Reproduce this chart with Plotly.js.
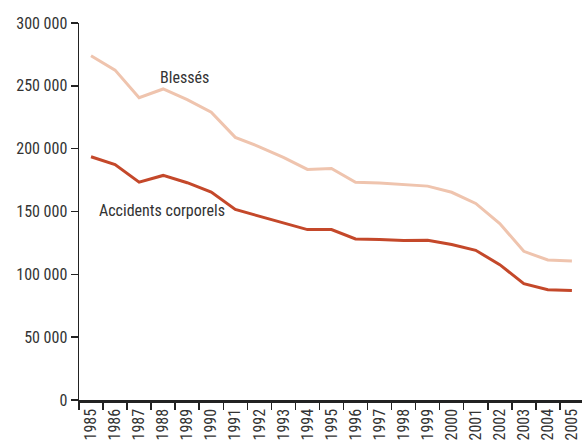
<!DOCTYPE html>
<html>
<head>
<meta charset="utf-8">
<script src="https://cdn.plot.ly/plotly-3.0.1.min.js"></script>
<style>html,body{margin:0;padding:0;background:#fff;}#chart{width:582px;height:446px;}</style>
</head>
<body>
<div id="chart"></div>
<script>
const years = ['1985','1986','1987','1988','1989','1990','1991','1992','1993','1994','1995','1996','1997','1998','1999','2000','2001','2002','2003','2004','2005'];
const blesses = [274000,262500,240500,247500,239000,229000,209000,201500,193000,183500,184300,173300,172600,171600,170200,165300,156400,140400,118300,111400,110600];
const accidents = [193600,187300,173400,178700,172900,165400,151600,146300,141000,135600,135600,128200,127700,126900,127100,123700,119100,107700,92600,87800,87200];
const yTickVals = [0,50000,100000,150000,200000,250000,300000];
const yTickText = ['0','50 000','100 000','150 000','200 000','250 000','300 000'];

const FONT = '"Liberation Sans Narrow", "Roboto Condensed", "DejaVu Sans Condensed", sans-serif';

const traces = [
  {x: years, y: blesses, type:'scatter', mode:'lines', name:'Blessés',
   line:{color:'#efc4ae', width:3}},
  {x: years, y: accidents, type:'scatter', mode:'lines', name:'Accidents corporels',
   line:{color:'#c4482a', width:3}}
];

const layout = {
  width:582, height:446,
  margin:{l:79, r:0, t:23, b:46, pad:0},
  paper_bgcolor:'#fff', plot_bgcolor:'#fff',
  showlegend:false,
  font:{family:FONT, size:16, color:'#333'},
  xaxis:{
    type:'category', range:[-0.5, 20.42], tickson:'boundaries',
    showgrid:false, zeroline:false,
    showline:true, linecolor:'#222', linewidth:2.5,
    ticks:'outside', ticklen:7, tickwidth:1.5, tickcolor:'#222',
    tickangle:-90, tickfont:{family:FONT, size:16, color:'#333'}
  },
  yaxis:{
    range:[0,300000], tickvals:yTickVals, ticktext:yTickText,
    showgrid:false, zeroline:false,
    showline:true, linecolor:'#222', linewidth:1.5,
    ticks:'outside', ticklen:7, tickwidth:1.5, tickcolor:'#222',
    tickfont:{family:FONT, size:16, color:'#333'}
  },
  annotations:[
    {text:'Blessés', xref:'x', yref:'y', x:3.9, y:257000, showarrow:false,
     font:{family:FONT, size:16, color:'#333'}},
    {text:'Accidents corporels', xref:'x', yref:'y', x:2.95, y:150500, showarrow:false,
     font:{family:FONT, size:16, color:'#333'}}
  ]
};

Plotly.newPlot('chart', traces, layout, {displayModeBar:false, staticPlot:true});
</script>
</body>
</html>
